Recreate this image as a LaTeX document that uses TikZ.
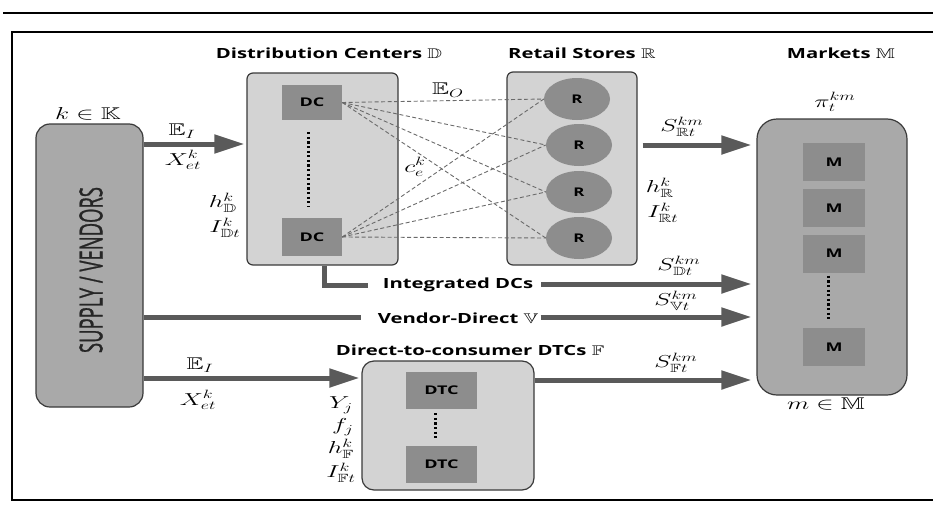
\documentclass[tikz,border=0pt]{standalone}
\usepackage{amsmath,amssymb}
\usepackage{fontspec}
\setsansfont{Open Sans}
\newfontfamily\supplyfont[FakeBold=1.2]{Open Sans}
\usetikzlibrary{arrows.meta,shapes.geometric}

\definecolor{boxdark}{HTML}{A9A9A9}
\definecolor{boxlight}{HTML}{D3D3D3}
\definecolor{unitfill}{HTML}{8D8D8D}
\definecolor{flow}{HTML}{5A5A5A}
\definecolor{rim}{HTML}{3A3A3A}
\definecolor{dashc}{HTML}{6A6A6A}

\begin{document}
\begin{tikzpicture}[x=1pt,y=-1pt,
  group/.style={draw=rim, line width=1.2pt, inner sep=0pt},
  unit/.style={fill=unitfill, inner sep=0pt, font=\sffamily\bfseries\fontsize{12}{14}\selectfont},
  lbl/.style={font=\sffamily\bfseries\fontsize{14}{16}\selectfont, xscale=1.45, inner sep=0pt},
  mth/.style={font=\fontsize{17}{19}\selectfont, xscale=1.5, inner sep=0pt},
  flowarr/.style={draw=flow, line width=5pt, -{Triangle[length=30pt,width=18pt]}},
  flowline/.style={draw=flow, line width=5pt},
  link/.style={draw=dashc, line width=0.9pt, dash pattern=on 4pt off 2.5pt},
  dots/.style={draw=black, line width=3pt, dash pattern=on 2.2pt off 2.4pt}]

\useasboundingbox (0,0) rectangle (933,511);

% frame
\draw[line width=1.5pt] (3,13) -- (933,13);
\draw[line width=1.6pt] (933,32) -- (12,32) -- (12,500) -- (933,500);

% supply
\node[group, fill=boxdark, rounded corners=14pt, minimum width=107pt, minimum height=283pt] (sup) at (89.5,265.5) {};
\node[rotate=90, inner sep=0pt, text=black!85] (suptxt) at (91,270)
  {\resizebox{166pt}{23pt}{\supplyfont SUPPLY / VENDORS}};
\node[mth] (kK) at (88,114) {$k \in \mathbb{K}$};

% distribution centers
\node[lbl] (dctitle) at (329,53) {Distribution Centers $\mathbb{D}$};
\node[group, fill=boxlight, rounded corners=6pt, minimum width=151pt, minimum height=192pt] (dcbox) at (322.5,169) {};
\node[unit, minimum width=60pt, minimum height=35pt] (dc1) at (312,102.5) {\scalebox{1.5}[1]{DC}};
\node[unit, minimum width=60pt, minimum height=38pt] (dc2) at (312,237) {\scalebox{1.5}[1]{DC}};
\path (dc1.south) ++(-4,12) coordinate (dcdA) (dc2.north) ++(-4,-11) coordinate (dcdB);
\draw[dots] (dcdA) -- (dcdB);
\node[mth] (hD) at (223,203) {$h^k_{\mathbb{D}}$};
\node[mth] (ID) at (225,228) {$I^k_{\mathbb{D}t}$};

% retail stores
\node[lbl] (rtitle) at (582,53) {Retail Stores $\mathbb{R}$};
\node[group, fill=boxlight, rounded corners=6pt, minimum width=130pt, minimum height=193pt] (ret) at (572,168.5) {};
\foreach \n/\cx/\cy in {r1/577/99, r2/579/145, r3/579/192, r4/579/238}
  \node[unit, ellipse, minimum width=66pt, minimum height=42pt] (\n) at (\cx,\cy) {\scalebox{1.4}[1]{R}};
\foreach \d in {dc1,dc2}
  \foreach \r in {r1,r2,r3,r4}
    \draw[link] (\d.east) -- (\r.west);
\node[mth] (EO) at (448,90) {$\mathbb{E}_O$};
\node[mth] (ce) at (415,167) {$c^k_e$};
\node[mth] (hR) at (660,188) {$h^k_{\mathbb{R}}$};
\node[mth] (IR) at (663,213) {$I^k_{\mathbb{R}t}$};

% markets
\node[lbl] (mtitle) at (841,53) {Markets $\mathbb{M}$};
\node[mth] (pi) at (835,102) {$\pi^{km}_t$};
\node[group, fill=boxdark, rounded corners=20pt, minimum width=150pt, minimum height=276pt] (mkt) at (832,257) {};
\foreach \n/\cy in {m1/162, m2/208, m3/253.5, m4/347}
  \node[unit, minimum width=62pt, minimum height=38pt] (\n) at (834,\cy) {\scalebox{1.5}[1]{M}};
\draw[dots] ([xshift=-6pt,yshift=-3pt]m3.south) -- ([xshift=-6pt,yshift=8pt]m4.north);
\node[mth] (mM) at (826,404) {$m \in \mathbb{M}$};

% direct-to-consumer
\node[lbl] (ftitle) at (470,350) {Direct-to-consumer DTCs $\mathbb{F}$};
\node[group, fill=boxlight, rounded corners=12pt, minimum width=172pt, minimum height=129pt] (dtc) at (448,425.5) {};
\node[unit, minimum width=71pt, minimum height=37pt] (t1) at (441.5,390.5) {\scalebox{1.5}[1]{DTC}};
\node[unit, minimum width=71pt, minimum height=37pt] (t2) at (441.5,464.5) {\scalebox{1.5}[1]{DTC}};
\draw[dots] ([xshift=-6pt,yshift=-4pt]t1.south) -- ([xshift=-6pt,yshift=6pt]t2.north);
\node[mth] (Yj) at (341,405) {$Y_j$};
\node[mth] (fj) at (343,427) {$f_j$};
\node[mth] (hF) at (341,449) {$h^k_{\mathbb{F}}$};
\node[mth] (IF) at (341,473) {$I^k_{\mathbb{F}t}$};

% flows into the network
\coordinate (yEIa) at (0,144);
\coordinate (yEIb) at (0,378);
\coordinate (yFt) at (0,380);
\coordinate (yInt) at (0,284);
\coordinate (yVen) at (0,317);
\draw[flowarr] (sup.east |- yEIa) -- ([xshift=-2pt]dcbox.west |- yEIa);
\node[mth] (EIa) at (182,131) {$\mathbb{E}_I$};
\node[mth] (Xa) at (183,160) {$X^k_{et}$};
\draw[flowarr] (sup.east |- yEIb) -- ([xshift=-2pt]dtc.west |- yEIb);
\node[mth] (EIb) at (200,365) {$\mathbb{E}_I$};
\node[mth] (Xb) at (198,400) {$X^k_{et}$};

% integrated DCs
\node[lbl] (intlbl) at (458,285) {Integrated DCs};
\coordinate (intA) at (324,285);
\draw[flowline] (dcbox.south -| intA) -- (intA) -- ([xshift=-15pt]intlbl.west |- intA);
\draw[flowarr] ([xshift=8pt]intlbl.east |- yInt) -- ([xshift=-5pt]mkt.west |- yInt);
\node[mth] (SD) at (679,266) {$S^{km}_{\mathbb{D}t}$};

% vendor-direct
\node[lbl] (vlbl) at (458,318) {Vendor-Direct $\mathbb{V}$};
\draw[flowline] (sup.east |- yVen) -- ([xshift=-16pt]vlbl.west |- yVen);
\draw[flowarr] ([xshift=2pt]vlbl.east |- yVen) -- ([xshift=-5pt]mkt.west |- yVen);
\node[mth] (SV) at (676,301) {$S^{km}_{\mathbb{V}t}$};

% retail and DTC to markets
\draw[flowarr] ([xshift=5pt]ret.east |- r2) -- ([xshift=-5pt]mkt.west |- r2);
\node[mth] (SR) at (682,127) {$S^{km}_{\mathbb{R}t}$};
\draw[flowarr] (dtc.east |- yFt) -- ([xshift=-5pt]mkt.west |- yFt);
\node[mth] (SF) at (676,363) {$S^{km}_{\mathbb{F}t}$};
\end{tikzpicture}
\end{document}
